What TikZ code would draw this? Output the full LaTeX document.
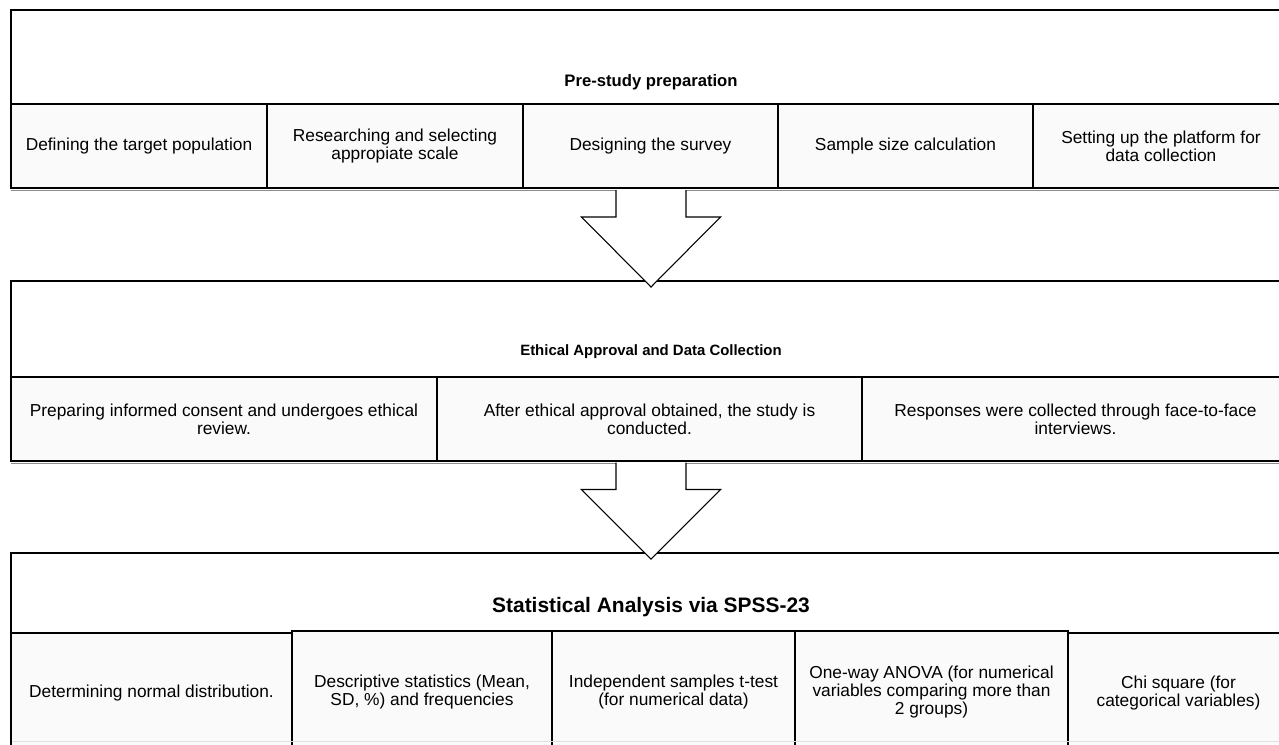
\documentclass[tikz,border=0pt]{standalone}
\usepackage{fontspec}
\setmainfont{Liberation Sans}
\usetikzlibrary{calc}

\begin{document}
\begin{tikzpicture}[x=0.75pt, y=0.75pt, line width=0.8pt]

	\tikzset{
		band/.style={draw, fill=white},
		cellbox/.style={draw, fill=black!2},
		celltext/.style={align=center, inner sep=0pt, font=\fontsize{13}{13.3}\selectfont},
		title/.style={inner sep=0pt, font=\bfseries\fontsize{12.5}{14}\selectfont},
		shade/.style={draw=black!45, line width=0.9pt},
		blockarrow/.style={draw, fill=white, line join=miter}
	}

	% ---------------------------
	% Helper macros
	% (#1 node name, #2/#3 top left x/y, #4/#5 bottom right x/y, #6 text)
	% ---------------------------
	\newcommand{\drawcell}[6]{%
		\draw[cellbox] (#2,-#3) rectangle (#4,-#5);
		\node[celltext] (#1) at ({(#2+#4)/2},{-(#3+#5)/2}) {#6};
	}
	% block arrow from coordinate #1 (top of shaft) down to coordinate #2 (tip)
	\newcommand{\blockarrow}[2]{%
		\draw[blockarrow] ($(#1)+(-35,0)$) -- ($(#1)+(-35,-27)$) -- ($(#1)+(-69.5,-27)$)
			-- (#2) -- ($(#1)+(69.5,-27)$) -- ($(#1)+(35,-27)$) -- ($(#1)+(35,0)$);
	}

	\useasboundingbox (0,0) rectangle (1279,-744);
	\clip (0,0) rectangle (1279,-744);

	% ---------------------------
	% Pre-study preparation
	% ---------------------------
	\draw[band] (11,-10) rectangle (1289,-104);
	\node[title] (pre) at (651,-82) {Pre-study preparation};
	\drawcell{pre1}{11}{104}{267}{188}{Defining the target population}
	\drawcell{pre2}{267}{104}{523}{188}{Researching and selecting\\appropiate scale}
	\drawcell{pre3}{523}{104}{778}{188}{Designing the survey}
	\drawcell{pre4}{778}{104}{1033}{188}{Sample size calculation}
	\drawcell{pre5}{1033}{104}{1289}{188}{Setting up the platform for\\data collection}
	\draw[shade] (11,-190.5) -- (1289,-190.5);

	% ---------------------------
	% Ethical Approval and Data Collection
	% ---------------------------
	\draw[band] (11,-281) rectangle (1289,-377);
	\node[title, font=\bfseries\fontsize{11.2}{13}\selectfont] (eth) at (651,-352) {Ethical Approval and Data Collection};
	\drawcell{eth1}{11}{377}{437}{461}{Preparing informed consent and undergoes ethical\\review.}
	\drawcell{eth2}{437}{377}{862}{461}{After ethical approval obtained, the study is\\conducted.}
	\drawcell{eth3}{862}{377}{1289}{461}{Responses were collected through face-to-face\\interviews.}
	\draw[shade] (11,-463.5) -- (1289,-463.5);

	% ---------------------------
	% Statistical Analysis via SPSS-23
	% ---------------------------
	\draw[band] (11,-553) rectangle (1289,-633);
	\node[title, font=\bfseries\fontsize{15.7}{17}\selectfont] (spss) at (651,-607) {Statistical Analysis via SPSS-23};
	\drawcell{sta1}{11}{633}{292}{753}{Determining normal distribution.}
	\drawcell{sta2}{292}{631}{552}{753}{Descriptive statistics (Mean,\\SD, \%) and frequencies}
	\drawcell{sta3}{552}{631}{795}{753}{Independent samples t-test\\(for numerical data)}
	\drawcell{sta4}{795}{631}{1068}{753}{One-way ANOVA (for numerical\\variables comparing more than\\2 groups)}
	\drawcell{sta5}{1068}{633}{1289}{753}{Chi square (for\\categorical variables)}
	\draw[black!12, line width=0.6pt] (12,-741) -- (1289,-741);

	% ---------------------------
	% Arrows between the stages
	% ---------------------------
	\coordinate (arr1) at (651,-190);
	\coordinate (tip1) at (651,-287);
	\blockarrow{arr1}{tip1}
	\coordinate (arr2) at (651,-462.5);
	\coordinate (tip2) at (651,-559);
	\blockarrow{arr2}{tip2}

\end{tikzpicture}
\end{document}
